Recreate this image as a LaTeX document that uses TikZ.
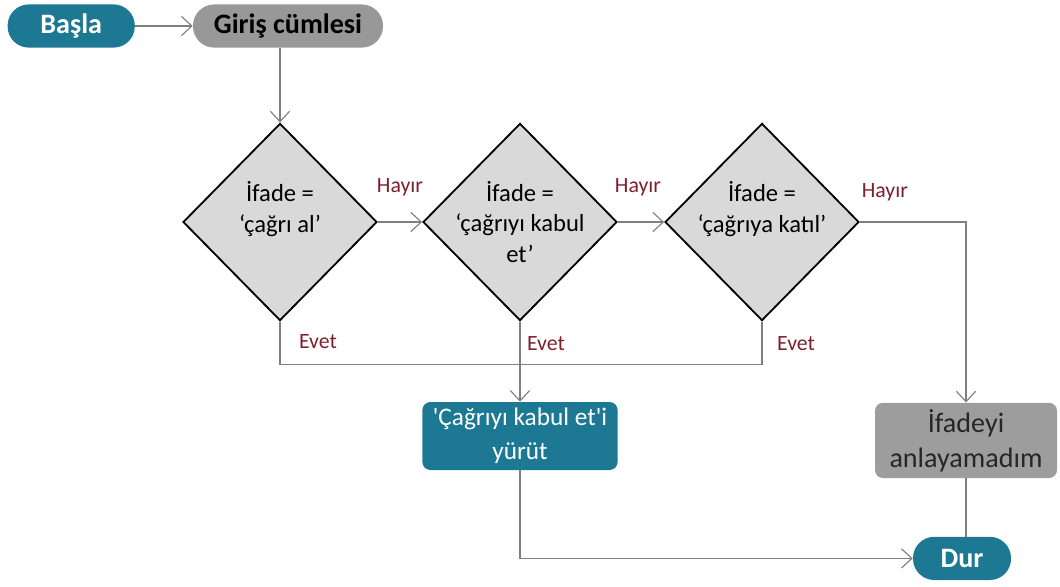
\documentclass[tikz,border=0pt]{standalone}
\usepackage{fontspec}
\setmainfont{Carlito}
\usetikzlibrary{arrows.meta,positioning,calc,shapes.geometric}
\definecolor{Petrol}{HTML}{1C7893}
\definecolor{Stone}{HTML}{989898}
\definecolor{StoneLight}{HTML}{D9D9D9}
\definecolor{Wire}{HTML}{7F7F7F}
\definecolor{Maroon}{HTML}{7E1F2E}

\begin{document}
\begin{tikzpicture}[>={Straight Barb[length=2.6mm,width=4.8mm]},node distance=0.5cm and 0.6cm]
    \tikzset{
      pill/.style={rounded corners=5.3mm,minimum width=3.18cm,minimum height=1.08cm,inner sep=0pt,
                   font=\fontsize{20}{24}\selectfont\bfseries},
      deci/.style={diamond,draw=black,line width=1.3pt,fill=StoneLight,inner sep=0pt,
                   minimum width=4.85cm,minimum height=4.93cm},
      decitext/.style={align=center,font=\fontsize{17.5}{22}\selectfont},
      actbox/.style={rounded corners=2mm,inner sep=0pt,align=center,
                   font=\fontsize{18}{24}\selectfont},
      tag/.style={text=Maroon,font=\fontsize{15.5}{18}\selectfont},
      conn/.style={draw=Wire,line width=0.8pt},
      arr/.style={conn,->}
    }
    \useasboundingbox (0,0) rectangle (26.5,-14.65);

    \node[pill,fill=Petrol,text=white] (basla) at (1.78,-0.65) {Başla};
    \node[pill,fill=Stone,minimum width=4.75cm] (giris) at (7.2,-0.65) {Giriş cümlesi};

    \node[deci,label={[decitext]center:İfade =\\‘çağrı al’\\\mbox{}}] (d1) at (7.0,-5.55) {};
    \node[deci,label={[decitext]center:İfade =\\‘çağrıyı kabul\\et’}] (d2) at (13.0,-5.55) {};
    \node[deci,label={[decitext]center:İfade =\\‘çağrıya katıl’\\\mbox{}}] (d3) at (19.05,-5.55) {};

    \node[actbox,fill=Petrol,text=white,minimum width=4.88cm,minimum height=1.7cm]
          (kabul) at (13.0,-10.9) {\textquotesingle Çağrıyı kabul et\textquotesingle i\\yürüt};
    \node[actbox,fill=Stone!95,text=black!85,minimum width=4.55cm,minimum height=1.88cm,
          font=\fontsize{20}{25}\selectfont]
          (anlama) at (24.15,-11.01) {İfadeyi\\anlayamadım};
    \node[pill,fill=Petrol,text=white,minimum width=2.45cm] (dur) at (24.05,-13.96) {Dur};

    % labels on the branches
    \node[tag] (h1) at (10.0,-4.68) {Hayır};
    \node[tag] (h2) at (15.95,-4.68) {Hayır};
    \node[tag] (h3) at (22.12,-4.8) {Hayır};
    \node[tag] (e1) at (7.95,-8.55) {Evet};
    \node[tag] (e2) at (13.65,-8.6) {Evet};
    \node[tag] (e3) at (19.9,-8.6) {Evet};
    \coordinate (bus) at (0,-9.12);

    \draw[arr] (basla) -- (giris);
    \draw[arr] (d1.north |- giris.south) -- (d1.north);
    \draw[arr] (d1.east) -- (d2.west);
    \draw[arr] (d2.east) -- (d3.west);
    \draw[arr] (d3.east) -| (anlama.north);
    \draw[conn] (d1.south) |- (d3.south |- bus) -- (d3.south);
    \draw[arr] (d2.south) -- (d2.south |- kabul.north);
    \draw[arr] (kabul.south) |- (dur.west);
    \draw[conn] (anlama.south) -- (anlama.south |- dur.north);
  \end{tikzpicture}
\end{document}
